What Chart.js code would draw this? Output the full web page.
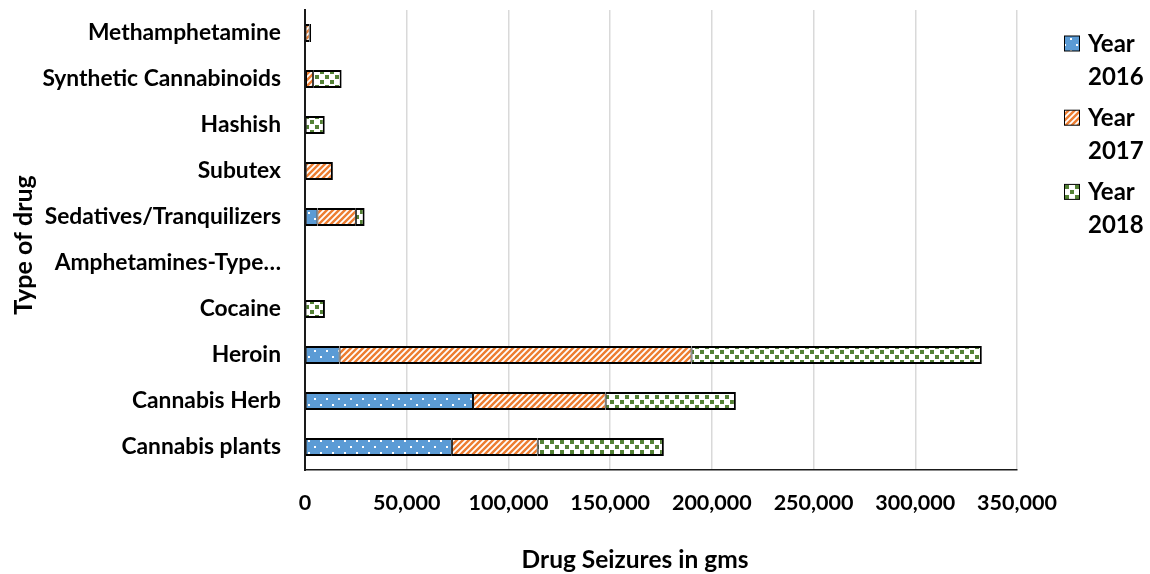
<!DOCTYPE html>
<html>
<head>
<meta charset="utf-8">
<script src="https://cdn.jsdelivr.net/npm/chart.js@4/dist/chart.umd.min.js"></script>
<style>
html,body{margin:0;padding:0;background:#ffffff;}
#wrap{width:1150px;height:574px;position:relative;}
</style>
</head>
<body>
<div id="wrap"><canvas id="c" width="1150" height="574"></canvas></div>
<script>
// ---- data ----
const categories = ['Methamphetamine', 'Synthetic Cannabinoids', 'Hashish', 'Subutex', 'Sedatives/Tranquilizers', 'Amphetamines-Type…', 'Cocaine', 'Heroin', 'Cannabis Herb', 'Cannabis plants'];
const seriesNames = ['Year 2016', 'Year 2017', 'Year 2018'];
const values2016 = [300, 500, 0, 0, 6100, 0, 0, 17000, 82600, 72200];
const values2017 = [2000, 3500, 0, 13700, 18900, 0, 300, 173000, 65200, 42200];
const values2018 = [700, 14000, 9700, 0, 4300, 0, 9500, 142700, 64000, 62000];
const xTickValues = [0, 50000, 100000, 150000, 200000, 250000, 300000, 350000];
const xAxisTitle = 'Drug Seizures in gms';
const yAxisTitle = 'Type of drug';

// ---- patterns ----
function makePattern(kind) {
  const c = document.createElement('canvas');
  const g = c.getContext('2d');
  if (kind === 'dots') {
    c.width = 12; c.height = 12;
    g.fillStyle = '#5B9BD5'; g.fillRect(0, 0, 12, 12);
    g.fillStyle = '#ffffff';
    g.fillRect(2, 2, 2, 2); g.fillRect(8, 8, 2, 2);
  } else if (kind === 'stripes') {
    c.width = 6; c.height = 6;
    g.fillStyle = '#ED7D31'; g.fillRect(0, 0, 6, 6);
    g.strokeStyle = '#ffffff'; g.lineWidth = 1.8;
    g.beginPath();
    g.moveTo(-1, 7); g.lineTo(7, -1);
    g.moveTo(-4, 4); g.lineTo(4, -4);
    g.moveTo(2, 10); g.lineTo(10, 2);
    g.stroke();
  } else {
    c.width = 10; c.height = 10;
    g.fillStyle = '#ffffff'; g.fillRect(0, 0, 10, 10);
    g.fillStyle = '#548235';
    g.fillRect(0, 0, 4, 4); g.fillRect(5, 5, 4, 4);
  }
  return g.createPattern(c, 'repeat');
}

const ctx = document.getElementById('c').getContext('2d');
const patterns = [makePattern('dots'), makePattern('stripes'), makePattern('squares')];
const allValues = [values2016, values2017, values2018];

function segBorder(context) {
  const i = context.dataIndex, d = context.datasetIndex;
  let last = true;
  for (let k = d + 1; k < allValues.length; k++) if (allValues[k][i] > 0) last = false;
  return { top: 2, bottom: 2, left: 1, right: last ? 2 : 1 };
}

const fontFamily = 'Lato, "Open Sans", sans-serif';

const overlay = {
  id: 'overlay',
  afterDraw(chart) {
    const g = chart.ctx;
    g.save();
    g.fillStyle = '#000000';
    // y axis title
    g.save();
    g.font = '700 25px ' + fontFamily;
    g.textAlign = 'center';
    g.textBaseline = 'middle';
    g.translate(24, 245);
    g.rotate(-Math.PI / 2);
    g.fillText(yAxisTitle, 0, 0);
    g.restore();
    g.textBaseline = 'alphabetic';
    // x axis title
    g.font = '700 24.5px ' + fontFamily;
    g.textAlign = 'center';
    g.fillText(xAxisTitle, 635, 567.5);
    // legend
    g.font = '700 24px ' + fontFamily;
    g.textAlign = 'left';
    chart.data.datasets.forEach((ds, i) => {
      const base = 51.5 + i * 74.2;
      g.fillStyle = ds.backgroundColor;
      g.fillRect(1064.5, base - 15.5, 15, 15);
      g.strokeStyle = '#000000';
      g.lineWidth = 1;
      g.strokeRect(1064.5, base - 15.5, 15, 15);
      g.fillStyle = '#000000';
      const words = ds.label.split(' ');
      g.fillText(words[0], 1088, base);
      g.fillText(words.slice(1).join(' '), 1088, base + 33);
    });
    g.restore();
  }
};

new Chart(ctx, {
  type: 'bar',
  data: {
    labels: categories,
    datasets: allValues.map((v, i) => ({
      label: seriesNames[i],
      data: v,
      backgroundColor: patterns[i],
      borderColor: '#000000',
      borderWidth: segBorder,
      borderSkipped: false,
      barPercentage: 0.39,
      categoryPercentage: 1.0
    }))
  },
  options: {
    indexAxis: 'y',
    responsive: false,
    animation: false,
    devicePixelRatio: 1,
    layout: { padding: { top: 10, right: 133, bottom: 0, left: 0 } },
    plugins: { legend: { display: false }, tooltip: { enabled: false } },
    scales: {
      x: {
        stacked: true,
        min: 0, max: 350000,
        afterBuildTicks: (s) => { s.ticks = xTickValues.map(v => ({ value: v })); },
        afterFit: (s) => { s.height = 104; },
        grid: { color: '#D9D9D9', lineWidth: 1.5, drawTicks: false },
        border: { display: true, color: '#1a1a1a', width: 1.5 },
        ticks: {
          padding: 20,
          color: '#000000',
          font: { family: fontFamily, size: 21.5, weight: '700' },
          maxRotation: 0,
          callback: (v) => Number(v).toLocaleString('en-US')
        },
        title: { display: false }
      },
      y: {
        stacked: true,
        afterFit: (s) => { s.width = 305; s.paddingTop = 0; s.paddingBottom = 0; },
        grid: { display: false, drawTicks: false },
        border: { display: true, color: '#1a1a1a', width: 2 },
        ticks: {
          padding: 24,
          color: '#000000',
          autoSkip: false,
          font: { family: fontFamily, size: 22.8, weight: '700' }
        },
        title: { display: false }
      }
    }
  },
  plugins: [overlay]
});
</script>
</body>
</html>
